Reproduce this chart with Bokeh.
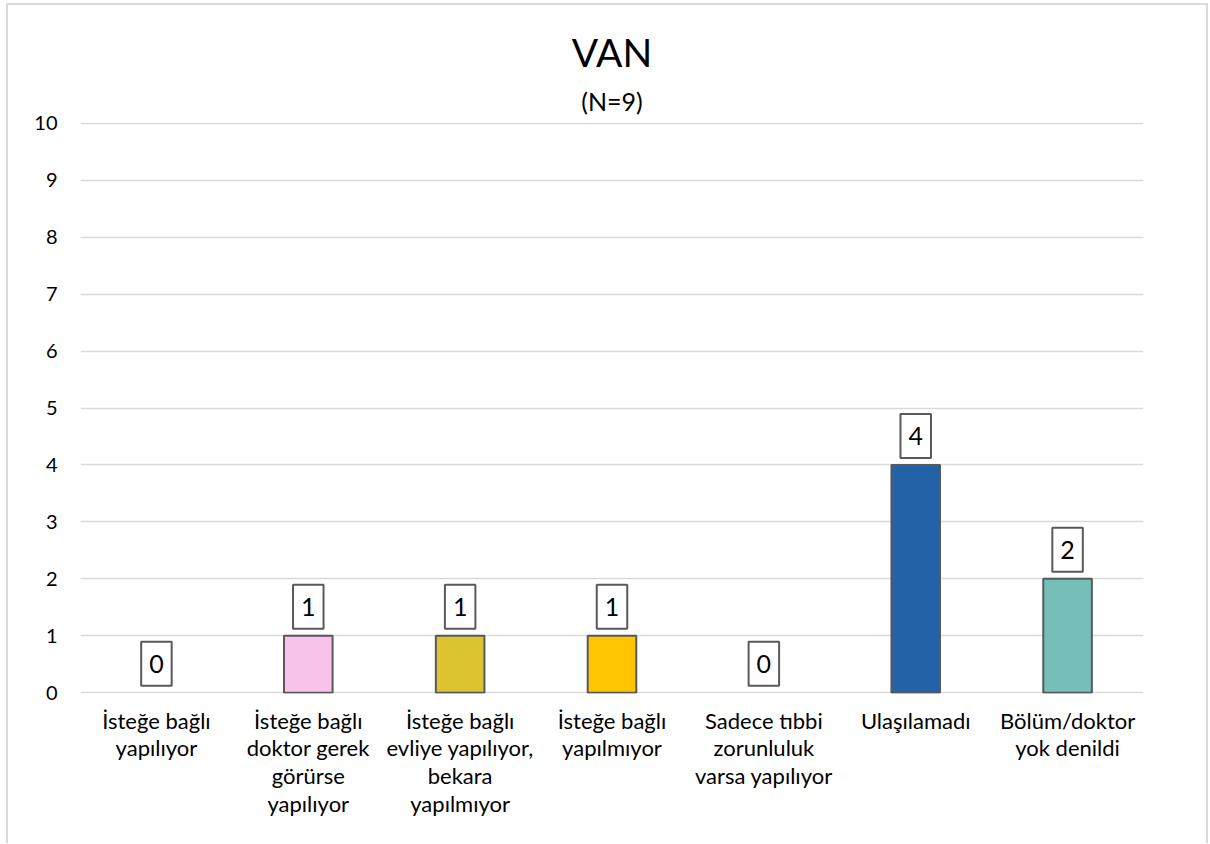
from bokeh.plotting import figure
from bokeh.models import ColumnDataSource, FactorRange, Range1d, FixedTicker, Title
from bokeh.core.properties import value
from bokeh.embed import file_html
from bokeh.resources import INLINE

categories = [
    "İsteğe bağlı\nyapılıyor",
    "İsteğe bağlı\ndoktor gerek\ngörürse\nyapılıyor",
    "İsteğe bağlı\nevliye yapılıyor,\nbekara\nyapılmıyor",
    "İsteğe bağlı\nyapılmıyor",
    "Sadece tıbbi\nzorunluluk\nvarsa yapılıyor",
    "Ulaşılamadı",
    "Bölüm/doktor\nyok denildi",
]
values = [0, 1, 1, 1, 0, 4, 2]
colors = ["#9DC3E6", "#F9C2EB", "#DBC42F", "#FFC600", "#A9D18E", "#2462A8", "#76BFB8"]
y_ticks = list(range(0, 11))
title_text = "VAN"
subtitle_text = "(N=9)"

FONT = "Lato"
GRID = "#D9D9D9"

bar_cats = [c for c, v in zip(categories, values) if v > 0]
bar_vals = [v for v in values if v > 0]
bar_cols = [col for col, v in zip(colors, values) if v > 0]
bars = ColumnDataSource(dict(x=bar_cats, top=bar_vals, color=bar_cols))
labels = ColumnDataSource(dict(x=categories, y=values, text=[str(v) for v in values]))

p = figure(
    x_range=FactorRange(*categories, range_padding=0),
    y_range=Range1d(-0.015, 10.015),
    width=1209, height=843,
    output_backend="svg", toolbar_location=None,
    min_border_left=80, min_border_right=66, min_border_top=122, min_border_bottom=150,
)
p.outline_line_color = None
p.background_fill_color = "white"
p.border_fill_color = None
p.styles = {
    "background": (
        f"linear-gradient({GRID},{GRID}) 6px 3px / 1202px 2px no-repeat, "
        f"linear-gradient({GRID},{GRID}) 6px 3px / 2px 900px no-repeat, "
        f"linear-gradient({GRID},{GRID}) 1206px 3px / 2px 900px no-repeat, white"
    )
}

p.vbar(x="x", top="top", width=0.32, source=bars, fill_color="color",
       line_color="#595959", line_width=2)

p.text(x="x", y="y", text="text", source=labels, y_offset=-29,
       text_align="center", text_baseline="middle",
       text_font=value(FONT), text_font_size="25px", text_color="black",
       background_fill_color="white", border_line_color="#595959",
       border_line_width=2, padding=[8, 13])

sub = Title(text=subtitle_text, align="center", text_font=FONT, text_font_size="25px",
            text_font_style="normal", text_color="black", offset=-3, standoff=13)
main = Title(text=title_text, align="center", text_font=FONT, text_font_size="39px",
             text_font_style="normal", text_color="black", offset=-3, standoff=6)
p.add_layout(sub, "above")
p.add_layout(main, "above")

p.yaxis.ticker = FixedTicker(ticks=y_ticks)
p.yaxis.axis_line_color = None
p.yaxis.major_tick_line_color = None
p.yaxis.minor_tick_line_color = None
p.yaxis.major_tick_out = 0
p.yaxis.major_tick_in = 0
p.yaxis.major_label_text_font = FONT
p.yaxis.major_label_text_font_size = "20px"
p.yaxis.major_label_text_color = "black"
p.yaxis.major_label_standoff = 23

p.xaxis.axis_line_color = None
p.xaxis.major_tick_line_color = None
p.xaxis.major_tick_out = 0
p.xaxis.major_tick_in = 0
p.xaxis.major_label_text_font = FONT
p.xaxis.major_label_text_font_size = "22px"
p.xaxis.major_label_text_color = "black"
p.xaxis.major_label_standoff = 13
p.xaxis.major_label_text_line_height = 1.03

p.xgrid.grid_line_color = None
p.ygrid.ticker = FixedTicker(ticks=y_ticks)
p.ygrid.grid_line_color = GRID
p.ygrid.grid_line_width = 1.5

open("out.html", "w").write(file_html(p, INLINE))
